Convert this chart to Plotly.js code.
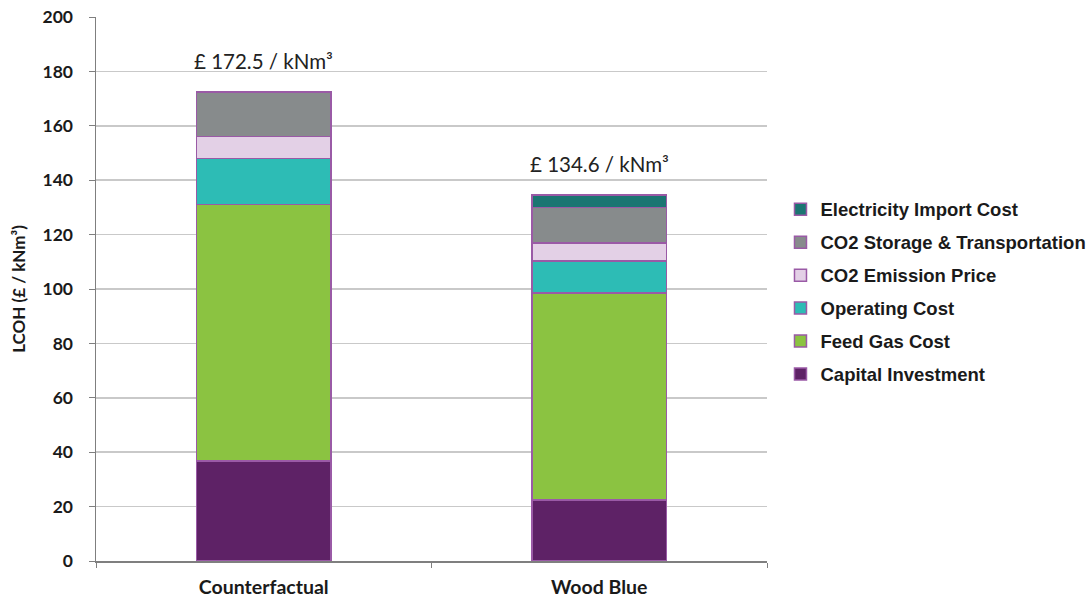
<!DOCTYPE html>
<html>
<head>
<meta charset="utf-8">
<script src="https://cdn.plot.ly/plotly-3.0.1.min.js"></script>
<style>
  html, body { margin: 0; padding: 0; background: #fff; }
  #chart { width: 1092px; height: 598px; }
</style>
</head>
<body>
<div id="chart"></div>
<script>
// Levelised cost of hydrogen breakdown, £ / kNm³
const scenarios = ['Counterfactual', 'Wood Blue'];

const capitalInvestment   = [36.8, 22.4];
const feedGasCost         = [94.3, 76.2];
const operatingCost       = [16.8, 11.7];
const co2EmissionPrice    = [8.1, 6.6];
const co2StorageTransport = [16.5, 13.0];
const electricityImport   = [0, 4.7];

const totals = [172.5, 134.6];
const totalLabels = ['£ 172.5 / kNm³', '£ 134.6 / kNm³'];

const components = [
  { name: 'Capital Investment', values: capitalInvestment, color: '#5E2266' },
  { name: 'Feed Gas Cost', values: feedGasCost, color: '#8BC341' },
  { name: 'Operating Cost', values: operatingCost, color: '#2DBCB5' },
  { name: 'CO2 Emission Price', values: co2EmissionPrice, color: '#E3D0E6' },
  { name: 'CO2 Storage & Transportation', values: co2StorageTransport, color: '#878B8C' },
  { name: 'Electricity Import Cost', values: electricityImport, color: '#1B7572' }
];

const outline = '#9A5AA6';
const calibriLike = 'Lato, "Open Sans", sans-serif';

// Stack bottom-up; legend lists the top segment first
const traces = components.map((c, i) => ({
  type: 'bar',
  name: c.name,
  legendgroup: c.name,
  legendrank: components.length - i,
  x: scenarios,
  y: c.values,
  marker: { color: c.color, line: { color: outline, width: 1.5 } },
  hovertemplate: '%{x}<br>' + c.name + ': %{y}<extra></extra>'
}));

const annotations = scenarios.map((s, i) => ({
  x: s,
  y: totals[i],
  xref: 'x',
  yref: 'y',
  text: totalLabels[i],
  showarrow: false,
  yanchor: 'bottom',
  yshift: 17,
  font: { family: calibriLike, size: 20.5, color: '#222' }
}));

const layout = {
  width: 1092,
  height: 598,
  margin: { l: 96, r: 325, t: 17, b: 37, autoexpand: false },
  paper_bgcolor: '#fff',
  plot_bgcolor: '#fff',
  barmode: 'stack',
  bargap: 0.6,
  showlegend: true,
  legend: {
    traceorder: 'grouped',
    tracegroupgap: 5.9,
    x: 1.0201,
    xanchor: 'left',
    y: 0.495,
    yanchor: 'middle',
    font: { family: '"Liberation Sans", Arial, sans-serif', size: 18.5, color: '#1a1a1a', weight: 'bold' },
    itemwidth: 30
  },
  xaxis: {
    type: 'category',
    showgrid: false,
    showline: true,
    linecolor: '#7f7f7f',
    linewidth: 1.5,
    ticks: 'outside',
    tickson: 'boundaries',
    ticklen: 5,
    tickcolor: '#7f7f7f',
    ticklabelstandoff: 8,
    tickfont: { family: calibriLike, size: 19.5, color: '#1a1a1a', weight: 'bold' },
    zeroline: false
  },
  yaxis: {
    range: [0, 200],
    dtick: 20,
    showgrid: true,
    gridcolor: '#C9C9C9',
    gridwidth: 1.5,
    showline: true,
    linecolor: '#7f7f7f',
    linewidth: 1.5,
    ticks: 'outside',
    ticklen: 6,
    tickcolor: '#7f7f7f',
    ticklabelstandoff: 12,
    zeroline: false,
    tickfont: { family: calibriLike, size: 17.5, color: '#1a1a1a', weight: 'bold' },
    title: {
      text: 'LCOH (£ / kNm³)',
      standoff: 12,
      font: { family: calibriLike, size: 17, color: '#1a1a1a', weight: 'bold' }
    }
  },
  annotations: annotations
};

Plotly.newPlot('chart', traces, layout, { displayModeBar: false, staticPlot: true });
</script>
</body>
</html>
